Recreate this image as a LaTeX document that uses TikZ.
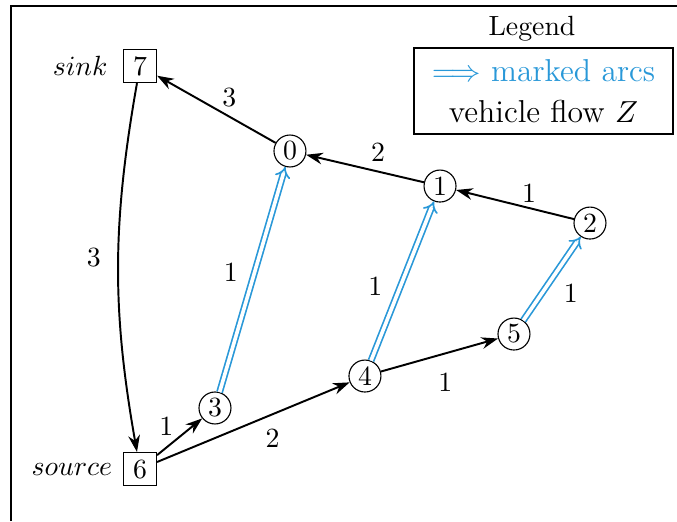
\documentclass[tikz,border=0pt]{standalone}
\usepackage{fontspec}
\usepackage{xcolor}
\usetikzlibrary{arrows.meta, positioning}
\definecolor{markblue}{RGB}{41,152,216}

\begin{document}
\begin{tikzpicture}[
    sommet/.style={circle, draw, thin, minimum size=11.5pt, inner sep=0pt},
    terminal/.style={rectangle, draw, thin, minimum size=11.9pt, inner sep=0pt},
    flux/.style={-{Stealth[length=6pt,width=4.2pt]}, line width=0.7pt},
    marque/.style={draw=markblue, double=white, double distance=1.3pt, line width=0.6pt, -{Implies}},
    poids/.style={inner sep=1pt}
  ]
  \useasboundingbox (0,0) rectangle (8.559,6.587);

  % Cadre
  \draw[line width=0.7pt] (0.139,0) -- (0.139,6.511) -- (8.559,6.511);

  % Sommets
  \node[terminal, label={[label distance=2pt]left:$sink$}] (n7) at (1.770,5.752) {7};
  \node[terminal, label={[label distance=0.3pt]left:$source$}] (n6) at (1.770,0.657) {6};
  \node[sommet] (n0) at (3.666,4.678) {0};
  \node[sommet] (n1) at (5.563,4.235) {1};
  \node[sommet] (n2) at (7.459,3.767) {2};
  \node[sommet] (n3) at (2.718,1.429) {3};
  \node[sommet] (n4) at (4.614,1.833) {4};
  \node[sommet] (n5) at (6.498,2.364) {5};

  % Flot des vehicules
  \draw[flux] (n0) -- node[poids, pos=0.48, above right] {3} (n7);
  \draw[flux] (n1) -- node[poids, pos=0.39, above=2.4pt] {2} (n0);
  \draw[flux] (n2) -- node[poids, pos=0.38, above=0.8pt] {1} (n1);
  \draw[flux] (n7) to[bend right=10] node[poids, pos=0.47, left=5pt] {3} (n6);
  \draw[flux] (n6) -- node[poids, pos=0.44, above left] {1} (n3);
  \draw[flux] (n6) -- node[poids, pos=0.60, below=4pt] {2} (n4);
  \draw[flux] (n4) -- node[poids, pos=0.55, below=5.8pt] {1} (n5);

  % Arcs marques
  \draw[marque] (n3) -- node[poids, pos=0.53, left=4.7pt] {1} (n0);
  \draw[marque] (n4) -- node[poids, pos=0.47, left=5.3pt] {1} (n1);
  \draw[marque] (n5) -- node[poids, pos=0.33, right=6.5pt] {1} (n2);

  % Legende
  \node (titre) at (6.726,6.220) {Legend};
  \node[draw, line width=0.6pt, minimum width=3.27cm, minimum height=1.09cm,
        align=center, inner sep=2pt, font=\fontsize{11.4}{15}\selectfont]
        (legende) at (6.871,5.436)
        {\textcolor{markblue}{$\Longrightarrow$ marked arcs}\\ vehicle flow $Z$};
\end{tikzpicture}
\end{document}
